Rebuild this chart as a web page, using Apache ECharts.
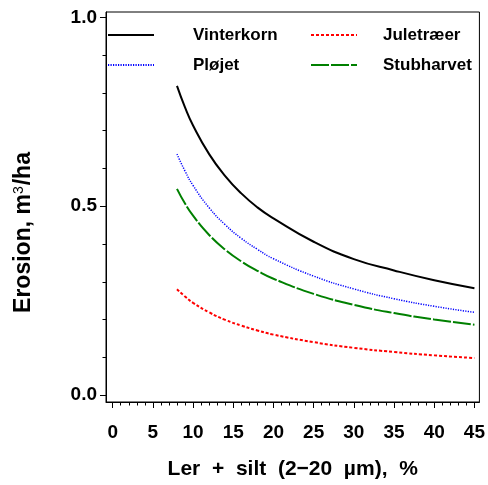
<!DOCTYPE html>
<html>
<head>
<meta charset="utf-8">
<script src="https://cdn.jsdelivr.net/npm/echarts@6/dist/echarts.min.js"></script>
<style>html,body{margin:0;padding:0;background:#fff}#c{width:488px;height:485px}</style>
</head>
<body>
<div id="c"></div>
<script>
// Data
var xValues = [8, 9, 10, 12, 14, 16, 18, 20, 25, 30, 35, 40, 45];
var vinterkorn = [0.819, 0.762, 0.714, 0.638, 0.580, 0.534, 0.497, 0.468, 0.406, 0.360, 0.330, 0.304, 0.283];
var plojet     = [0.638, 0.593, 0.555, 0.496, 0.451, 0.415, 0.386, 0.361, 0.315, 0.281, 0.255, 0.235, 0.219];
var stubharvet = [0.546, 0.507, 0.475, 0.424, 0.385, 0.354, 0.329, 0.308, 0.268, 0.239, 0.217, 0.200, 0.186];
var juletraeer = [0.280, 0.261, 0.244, 0.219, 0.199, 0.184, 0.171, 0.160, 0.140, 0.125, 0.114, 0.105, 0.098];
var xMajorTicks = [0, 5, 10, 15, 20, 25, 30, 35, 40, 45];
var xMinorTicks = [];
for (var i = 0; i <= 45; i++) xMinorTicks.push(i);
var yMajorTicks = [0, 0.5, 1.0];
var yMinorTicks = [0, 0.1, 0.2, 0.3, 0.4, 0.5, 0.6, 0.7, 0.8, 0.9, 1.0];

function pairs(ys) { return xValues.map(function (x, k) { return [x, ys[k]]; }); }

var FONT = "'Liberation Sans', Arial, Helvetica, sans-serif";
var chart = echarts.init(document.getElementById('c'), null, { renderer: 'canvas' });
var XMIN = -0.83, XMAX = 45.62, YMIN = -0.0185, YMAX = 1.0145;

var legendCommon = {
  orient: 'vertical', top: 26.5, padding: 0,
  itemWidth: 46, itemHeight: 14, itemGap: 13,
  itemStyle: { opacity: 0 }
};

chart.setOption({
  backgroundColor: '#fff',
  animation: false,
  grid: { left: 106, right: 8.5, top: 12, bottom: 82, show: true, borderColor: '#000', borderWidth: 1, backgroundColor: 'transparent' },
  legend: [
    Object.assign({}, legendCommon, {
      data: ['Vinterkorn', 'Pløjet'], left: 107,
      textStyle: { fontFamily: FONT, fontSize: 17, fontWeight: 'bold', color: '#000', padding: [0, 0, 0, 34] }
    }),
    Object.assign({}, legendCommon, {
      data: ['Juletræer', 'Stubharvet'], left: 310,
      textStyle: { fontFamily: FONT, fontSize: 17, fontWeight: 'bold', color: '#000', padding: [0, 0, 0, 21] }
    })
  ],
  xAxis: [
    {
      type: 'value', min: XMIN, max: XMAX, position: 'bottom',
      name: 'Ler  +  silt  (2\u221220  \u00b5m),  %', nameLocation: 'middle', nameGap: 57,
      nameTextStyle: { fontFamily: FONT, fontSize: 21, fontWeight: 'bold', color: '#000' },
      axisLine: { show: true, onZero: false, lineStyle: { color: '#000', width: 1 } },
      axisTick: { show: true, inside: false, length: 6, customValues: xMajorTicks, lineStyle: { color: '#000' } },
      axisLabel: { show: true, customValues: xMajorTicks, margin: 21, fontFamily: FONT, fontSize: 19, fontWeight: 'bold', color: '#000' },
      splitLine: { show: false }
    },
    {
      type: 'value', min: XMIN, max: XMAX, position: 'bottom',
      axisLine: { show: false, onZero: false },
      axisTick: { show: true, inside: false, length: 3.5, customValues: xMinorTicks, lineStyle: { color: '#000' } },
      axisLabel: { show: false },
      splitLine: { show: false }
    }
  ],
  yAxis: [
    {
      type: 'value', min: YMIN, max: YMAX, position: 'left',
      name: 'Erosion, m{sup|3}/ha', nameLocation: 'middle', nameGap: 70,
      nameTextStyle: { fontFamily: FONT, fontSize: 23, fontWeight: 'bold', color: '#000', padding: [0, 51, 0, 0],
        rich: { sup: { fontFamily: FONT, fontSize: 14, fontWeight: 'normal', color: '#000', verticalAlign: 'top', padding: [0, 1, 10, 0] } } },
      axisLine: { show: true, onZero: false, lineStyle: { color: '#000', width: 1 } },
      axisTick: { show: true, inside: false, length: 6, customValues: yMajorTicks, lineStyle: { color: '#000' } },
      axisLabel: { show: true, customValues: yMajorTicks, margin: 9, fontFamily: FONT, fontSize: 19, fontWeight: 'bold', color: '#000',
        formatter: function (v) { return v.toFixed(1); } },
      splitLine: { show: false }
    },
    {
      type: 'value', min: YMIN, max: YMAX, position: 'left',
      axisLine: { show: false, onZero: false },
      axisTick: { show: true, inside: false, length: 3.5, customValues: yMinorTicks, lineStyle: { color: '#000' } },
      axisLabel: { show: false },
      splitLine: { show: false }
    }
  ],
  series: [
    { name: 'Vinterkorn', type: 'line', data: pairs(vinterkorn), smooth: true, showSymbol: false, symbol: 'none',
      lineStyle: { color: '#000', width: 2, type: 'solid' }, itemStyle: { color: '#000' } },
    { name: 'Pløjet', type: 'line', data: pairs(plojet), smooth: true, showSymbol: false, symbol: 'none',
      lineStyle: { color: '#0000ff', width: 1.5, type: [1.2, 1.3] }, itemStyle: { color: '#0000ff' } },
    { name: 'Juletræer', type: 'line', data: pairs(juletraeer), smooth: true, showSymbol: false, symbol: 'none',
      lineStyle: { color: '#ff0000', width: 2, type: [3, 2] }, itemStyle: { color: '#ff0000' } },
    { name: 'Stubharvet', type: 'line', data: pairs(stubharvet), smooth: true, showSymbol: false, symbol: 'none',
      lineStyle: { color: '#008000', width: 2, type: [18, 2] }, itemStyle: { color: '#008000' } }
  ]
});
</script>
</body>
</html>
